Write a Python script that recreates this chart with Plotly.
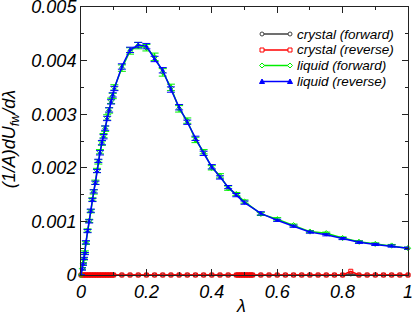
import plotly.graph_objects as go

# ---- data ----
liq_lam = [0.0, 0.003, 0.006, 0.009, 0.012, 0.015, 0.02, 0.025, 0.03, 0.035, 0.039,
           0.044, 0.049, 0.053, 0.058, 0.064, 0.069, 0.074, 0.08, 0.086, 0.092, 0.097,
           0.102, 0.125, 0.15, 0.175, 0.2, 0.225, 0.25, 0.275, 0.3, 0.325, 0.35, 0.375,
           0.4, 0.425, 0.45, 0.475, 0.5, 0.55, 0.6, 0.65, 0.7, 0.75, 0.8, 0.85, 0.9,
           0.95, 1.0]

liq_rev = [0.0, 0.00011, 0.0002, 0.00031, 0.0004, 0.00061, 0.00082, 0.001, 0.0012,
           0.0014, 0.00156, 0.00172, 0.00194, 0.00213, 0.00228, 0.00247, 0.00258,
           0.00274, 0.00292, 0.00308, 0.00323, 0.00336, 0.00348, 0.00389, 0.0042,
           0.00429, 0.00427, 0.00403, 0.00382, 0.00346, 0.00313, 0.00285, 0.00255,
           0.00227, 0.00202, 0.00182, 0.00164, 0.00149, 0.00135, 0.00115, 0.00102,
           0.00091, 0.0008, 0.00075, 0.00068, 0.00061, 0.00057, 0.00054, 0.0005]

liq_fwd = [0.0, 0.00012, 0.00021, 0.0003, 0.00042, 0.0006, 0.00083, 0.00101, 0.00119,
           0.00141, 0.00155, 0.00173, 0.00195, 0.00211, 0.0023, 0.00246, 0.0026,
           0.00273, 0.00294, 0.00307, 0.00325, 0.00334, 0.0035, 0.00386, 0.00418,
           0.00428, 0.00424, 0.00407, 0.00378, 0.0035, 0.0031, 0.00288, 0.00252,
           0.0023, 0.002, 0.00185, 0.00162, 0.00151, 0.00137, 0.00114, 0.00104,
           0.00093, 0.00081, 0.00078, 0.00069, 0.00062, 0.00058, 0.00055, 0.0005]

liq_rev_err = [0.0, 0.00002, 0.00002, 0.00002, 0.00002, 0.00003, 0.00003, 0.00003,
               0.00003, 0.00003, 0.00003, 0.00003, 0.00003, 0.00003, 0.00004, 0.00004,
               0.00004, 0.00004, 0.00004, 0.00004, 0.00004, 0.00004, 0.00004, 0.00005,
               0.00005, 0.00005, 0.00005, 0.00005, 0.00005, 0.00005, 0.00005, 0.00004,
               0.00004, 0.00004, 0.00004, 0.00003, 0.00003, 0.00003, 0.00003, 0.00003,
               0.00002, 0.00002, 0.00002, 0.00002, 0.00002, 0.00002, 0.00002, 0.00002,
               0.00002]

liq_fwd_err = [0.0, 0.00002, 0.00002, 0.00002, 0.00003, 0.00003, 0.00003, 0.00003,
               0.00003, 0.00003, 0.00004, 0.00004, 0.00004, 0.00004, 0.00004, 0.00004,
               0.00004, 0.00005, 0.00005, 0.00005, 0.00005, 0.00005, 0.00005, 0.00006,
               0.00006, 0.00006, 0.00006, 0.00007, 0.00007, 0.00006, 0.00006, 0.00005,
               0.00005, 0.00004, 0.00004, 0.00004, 0.00004, 0.00003, 0.00003, 0.00003,
               0.00003, 0.00002, 0.00002, 0.00002, 0.00002, 0.00002, 0.00002, 0.00002,
               0.00002]

cry_lam = [0.0, 0.005, 0.01, 0.015, 0.02, 0.025, 0.03, 0.035, 0.04, 0.045, 0.05,
           0.055, 0.06, 0.065, 0.07, 0.075, 0.08, 0.085, 0.09, 0.095, 0.1, 0.125,
           0.15, 0.175, 0.2, 0.225, 0.25, 0.275, 0.3, 0.325, 0.35, 0.375, 0.4,
           0.425, 0.45, 0.475, 0.48, 0.485, 0.49, 0.495, 0.5, 0.505, 0.51, 0.515,
           0.52, 0.525, 0.55, 0.575, 0.6, 0.625, 0.65, 0.675, 0.7, 0.725, 0.75,
           0.775, 0.8, 0.825, 0.85, 0.875, 0.9, 0.925, 0.95, 0.975, 1.0]

cry_fwd = [0.0, 0.0, 0.0, 0.0, 0.0, 0.0, 0.0, 0.0, 0.0, 0.0, 0.0,
           0.0, 0.0, 0.0, 0.0, 0.0, 0.0, 0.0, 0.0, 0.0, 0.0, 0.0,
           0.0, 0.0, 0.0, 0.0, 0.0, 0.0, 0.0, 0.0, 0.0, 0.0, 0.0,
           0.0, 0.0, 0.0, 0.0, 0.0, 0.0, 0.0, 0.0, 0.0, 0.0, 0.0,
           0.0, 0.0, 0.0, 0.0, 0.0, 0.0, 0.0, 0.0, 0.0, 0.0, 0.0,
           0.0, 0.0, 0.00002, 0.0, 0.0, 0.0, 0.0, 0.0, 0.0, 0.0]

cry_rev = [0.0, 0.0, 0.0, 0.0, 0.0, 0.0, 0.0, 0.0, 0.0, 0.0, 0.0,
           0.0, 0.0, 0.0, 0.0, 0.0, 0.0, 0.0, 0.0, 0.0, 0.0, 0.0,
           0.0, 0.0, 0.0, 0.0, 0.0, 0.0, 0.0, 0.0, 0.0, 0.0, 0.0,
           0.0, 0.0, 0.0, 0.0, 0.0, 0.0, 0.0, 0.0, 0.0, 0.0, 0.0,
           0.0, 0.0, 0.0, 0.0, 0.0, 0.0, 0.0, 0.0, 0.0, 0.0, 0.0,
           0.0, 0.0, 0.00007, 0.0, 0.0, 0.0, 0.0, 0.0, 0.0, 0.0]

series_names = ["crystal (forward)", "crystal (reverse)",
                "liquid (forward)", "liquid (reverse)"]
series_colors = ["#404040", "#ff0000", "#00ee00", "#0000ff"]
x_ticks = [0, 0.2, 0.4, 0.6, 0.8, 1.0]
x_tick_text = ["0", "0.2", "0.4", "0.6", "0.8", "1"]
y_ticks = [0, 0.001, 0.002, 0.003, 0.004, 0.005]
y_tick_text = ["0", "0.001", "0.002", "0.003", "0.004", "0.005"]

FONT = "Liberation Sans, Arial, sans-serif"

fig = go.Figure()

fig.add_trace(go.Scatter(
    x=cry_lam, y=cry_fwd, name=series_names[0], mode="lines+markers",
    line=dict(color=series_colors[0], width=1.5),
    marker=dict(symbol="circle-open", size=4, color=series_colors[0], line=dict(width=1)),
    cliponaxis=False, showlegend=False))

fig.add_trace(go.Scatter(
    x=cry_lam, y=cry_rev, name=series_names[1], mode="lines+markers",
    line=dict(color=series_colors[1], width=1.5),
    marker=dict(symbol="square-open", size=4, color=series_colors[1], line=dict(width=1)),
    cliponaxis=False, showlegend=False))

fig.add_trace(go.Scatter(
    x=liq_lam, y=liq_fwd, name=series_names[2], mode="lines+markers",
    line=dict(color=series_colors[2], width=1.5),
    marker=dict(symbol="diamond-open", size=4, color=series_colors[2], line=dict(width=1)),
    error_y=dict(type="data", array=liq_fwd_err, color=series_colors[2],
                 thickness=1, width=4),
    cliponaxis=False, showlegend=False))

fig.add_trace(go.Scatter(
    x=liq_lam, y=liq_rev, name=series_names[3], mode="lines+markers",
    line=dict(color=series_colors[3], width=1.5),
    marker=dict(symbol="triangle-up", size=4, color=series_colors[3]),
    error_y=dict(type="data", array=liq_rev_err, color=series_colors[3],
                 thickness=1, width=4),
    cliponaxis=False, showlegend=False))

axis_common = dict(
    showline=True, linecolor="#222222", linewidth=1, mirror="allticks",
    ticks="inside", ticklen=6, tickcolor="#222222", tickwidth=1,
    showgrid=False, zeroline=False, automargin=False,
    ticklabeloverflow="allow",
    tickfont=dict(family=FONT, size=18, color="black", style="italic"),
)

fig.update_xaxes(
    range=[0, 1], tickvals=x_ticks, ticktext=x_tick_text,
    minor=dict(ticks="inside", ticklen=3, dtick=0.1, tickcolor="#222222"),
    **axis_common)

fig.update_yaxes(
    range=[0, 0.005], tickvals=y_ticks, ticktext=y_tick_text,
    minor=dict(ticks="inside", ticklen=3, dtick=0.0005, tickcolor="#222222"),
    **axis_common)

fig.add_annotation(
    text="λ", xref="paper", yref="paper", x=0.489, y=-0.116,
    xanchor="center", yanchor="middle", showarrow=False,
    font=dict(family=FONT, size=18, color="black", style="italic"))

fig.add_annotation(
    text="(1/A)dU<sub>fw</sub>/dλ", xref="paper", yref="paper",
    x=-0.215, y=0.505, xanchor="center", yanchor="middle", textangle=-90,
    showarrow=False,
    font=dict(family=FONT, size=18, color="black", style="italic"))

# ---- hand-drawn legend (xmgrace style: line with a symbol at both ends) ----
PL, PT, PW, PH = 81, 7, 327, 268
def px_x(p):
    return (p - PL) / PW
def px_y(p):
    return (PT + PH - p) / PH

leg_rows = [34, 50, 65.5, 81.5]
leg_x0, leg_x1, leg_tx = 262, 290, 295
sym_paths = {
    "circle": None,
    "square": "M -2 -2 L 2 -2 L 2 2 L -2 2 Z",
    "diamond": "M 0 -2.5 L 2.5 0 L 0 2.5 L -2.5 0 Z",
    "triangle": "M -2.5 -2 L 2.5 -2 L 0 2.5 Z",
}
leg_syms = ["circle", "square", "diamond", "triangle"]
for name, col, row, sym in zip(series_names, series_colors, leg_rows, leg_syms):
    yy = px_y(row)
    fig.add_shape(type="line", xref="paper", yref="paper",
                  x0=px_x(leg_x0), x1=px_x(leg_x1), y0=yy, y1=yy,
                  line=dict(color=col, width=1.5))
    for ex in (leg_x0, leg_x1):
        if sym == "circle":
            fig.add_shape(type="circle", xref="paper", yref="paper",
                          xsizemode="pixel", ysizemode="pixel",
                          xanchor=px_x(ex), yanchor=yy,
                          x0=-2, x1=2, y0=-2, y1=2,
                          line=dict(color=col, width=1), fillcolor="white")
        else:
            fig.add_shape(type="path", xref="paper", yref="paper",
                          xsizemode="pixel", ysizemode="pixel",
                          xanchor=px_x(ex), yanchor=yy,
                          path=sym_paths[sym],
                          line=dict(color=col, width=1),
                          fillcolor=col if sym == "triangle" else "white")
    fig.add_annotation(text=name, xref="paper", yref="paper",
                       x=px_x(leg_tx), y=yy, xanchor="left", yanchor="middle",
                       showarrow=False,
                       font=dict(family=FONT, size=13.5, color="black",
                                 style="italic"))

fig.update_layout(
    width=415, height=316,
    margin=dict(l=81, r=7, t=7, b=41),
    paper_bgcolor="white", plot_bgcolor="white",
    showlegend=False,
)

fig.write_html(
    "out.html",
    config={"displayModeBar": False},
    post_script="document.body.style.margin='0';document.body.style.padding='0';",
)
